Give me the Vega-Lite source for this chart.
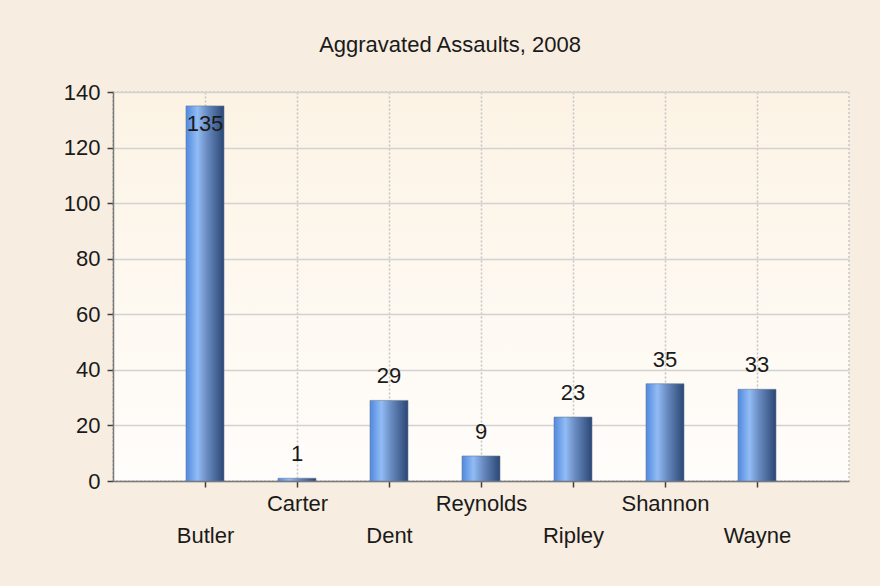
{
  "$schema": "https://vega.github.io/schema/vega-lite/v6.json",
  "autosize": "none",
  "width": 736,
  "height": 389,
  "padding": {"left": 113, "top": 92, "right": 31, "bottom": 105},
  "background": "#f7ede0",
  "title": {
    "text": "Aggravated Assaults, 2008",
    "font": "Liberation Sans",
    "fontSize": 22,
    "fontWeight": "normal",
    "color": "#1a1a1a",
    "anchor": "middle",
    "frame": "group",
    "dx": -31,
    "offset": 24
  },
  "data": {
    "values": [
      {"county": "Butler", "assaults": 135},
      {"county": "Carter", "assaults": 1},
      {"county": "Dent", "assaults": 29},
      {"county": "Reynolds", "assaults": 9},
      {"county": "Ripley", "assaults": 23},
      {"county": "Shannon", "assaults": 35},
      {"county": "Wayne", "assaults": 33}
    ]
  },
  "encoding": {
    "x": {
      "field": "county",
      "type": "nominal",
      "sort": null,
      "scale": {"type": "point", "padding": 1},
      "axis": {
        "title": null,
        "labelAngle": 0,
        "labelFont": "Liberation Sans",
        "labelFontSize": 22,
        "labelColor": "#1a1a1a",
        "labelPadding": 6,
        "labelBaseline": "top",
        "labelLineHeight": 32,
        "labelOverlap": false,
        "labelExpr": "indexof(['Butler','Dent','Ripley','Wayne'], datum.value) >= 0 ? ['', datum.value] : datum.value",
        "tickSize": 6,
        "tickColor": "#404040",
        "tickWidth": 1.5,
        "domainColor": "#7a7a7a",
        "domainWidth": 1.5,
        "grid": true,
        "gridColor": "#c4c4c4",
        "gridDash": [2, 2],
        "gridWidth": 1.5
      }
    },
    "y": {
      "field": "assaults",
      "type": "quantitative",
      "scale": {"domain": [0, 140], "nice": false},
      "axis": {
        "title": null,
        "values": [0, 20, 40, 60, 80, 100, 120, 140],
        "labelFont": "Liberation Sans",
        "labelFontSize": 22,
        "labelColor": "#1a1a1a",
        "labelPadding": 7,
        "tickSize": 6,
        "tickColor": "#404040",
        "tickWidth": 1.5,
        "domainColor": "#7a7a7a",
        "domainWidth": 1.5,
        "grid": true,
        "gridColor": "#d2d2d2",
        "gridWidth": 1.5
      }
    }
  },
  "layer": [
    {
      "mark": {
        "type": "bar",
        "width": 38,
        "stroke": "#6a7a90",
        "strokeWidth": 0.6,
        "fill": {
          "gradient": "linear",
          "x1": 0, "x2": 1, "y1": 0, "y2": 0,
          "stops": [
            {"offset": 0, "color": "#5089e0"},
            {"offset": 0.3, "color": "#92bcf4"},
            {"offset": 0.55, "color": "#6a8cc2"},
            {"offset": 1, "color": "#2a4774"}
          ]
        }
      }
    },
    {
      "transform": [{"filter": "datum.assaults < 130"}],
      "mark": {
        "type": "text",
        "baseline": "alphabetic",
        "dy": -17,
        "font": "Liberation Sans",
        "fontSize": 22,
        "color": "#1a1a1a"
      },
      "encoding": {"text": {"field": "assaults", "type": "quantitative"}}
    },
    {
      "transform": [{"filter": "datum.assaults >= 130"}],
      "mark": {
        "type": "text",
        "baseline": "alphabetic",
        "dy": 25,
        "font": "Liberation Sans",
        "fontSize": 22,
        "color": "#1a1a1a"
      },
      "encoding": {"text": {"field": "assaults", "type": "quantitative"}}
    }
  ],
  "config": {
    "view": {
      "fill": {
        "gradient": "linear",
        "x1": 0, "x2": 0, "y1": 0, "y2": 1,
        "stops": [
          {"offset": 0, "color": "#fcf3e4"},
          {"offset": 1, "color": "#fffdfb"}
        ]
      },
      "stroke": "#c8c8c8",
      "strokeDash": [2, 2],
      "strokeWidth": 1.5
    }
  }
}
